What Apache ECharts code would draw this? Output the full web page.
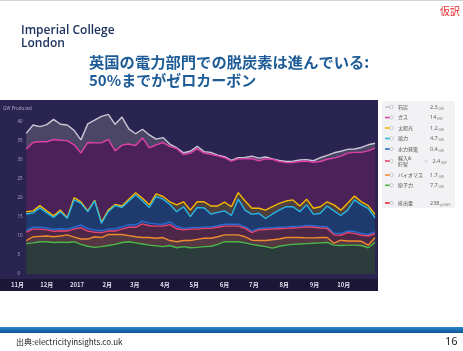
<!DOCTYPE html>
<html>
<head>
<meta charset="utf-8">
<script src="https://cdn.jsdelivr.net/npm/echarts@6.0.0/dist/echarts.min.js"></script>
<style>
html, body { margin: 0; padding: 0; background: #fff; }
#chart { width: 463px; height: 351px; }
</style>
</head>
<body>
<div id="chart"></div>
<script>
// weekly points, GW by source (stacked bottom -> top)
var weeks = ['2016-11-10', '2016-11-17', '2016-11-24', '2016-12-01', '2016-12-08', '2016-12-15', '2016-12-22', '2016-12-29',
    '2017-01-05', '2017-01-12', '2017-01-19', '2017-01-26', '2017-02-02', '2017-02-09', '2017-02-16', '2017-02-23',
    '2017-03-02', '2017-03-09', '2017-03-16', '2017-03-23', '2017-03-30', '2017-04-06', '2017-04-13', '2017-04-20',
    '2017-04-27', '2017-05-04', '2017-05-11', '2017-05-18', '2017-05-25', '2017-06-01', '2017-06-08', '2017-06-15',
    '2017-06-22', '2017-06-29', '2017-07-06', '2017-07-13', '2017-07-20', '2017-07-27', '2017-08-03', '2017-08-10',
    '2017-08-17', '2017-08-24', '2017-08-31', '2017-09-07', '2017-09-14', '2017-09-21', '2017-09-28', '2017-10-05',
    '2017-10-12', '2017-10-19', '2017-10-26', '2017-11-02']
var nuclear = [8.0, 8.2, 8.5, 8.5, 8.3, 8.4, 8.3, 8.5, 7.8, 7.3, 7.0, 7.2, 7.5, 7.8, 8.3, 8.5, 8.2, 7.9, 7.6, 7.4,
    7.2, 7.5, 6.9, 7.2, 6.9, 7.0, 7.2, 7.3, 7.8, 8.5, 8.5, 8.5, 8.2, 7.8, 7.5, 7.2, 6.8, 7.3, 7.6, 7.8,
    7.9, 8.0, 8.1, 8.2, 8.3, 7.6, 7.5, 7.6, 7.6, 7.5, 6.9, 8.3]
var biomass = [0.8, 1.6, 1.4, 1.5, 1.5, 1.6, 2.0, 1.2, 1.4, 1.9, 2.8, 2.4, 2.9, 2.6, 2.1, 1.6, 1.6, 1.7, 2.0, 2.0,
    2.4, 1.3, 1.6, 1.6, 1.9, 2.1, 2.2, 2.1, 2.0, 1.8, 1.8, 1.8, 1.6, 1.1, 1.3, 1.6, 2.2, 1.9, 2.0, 1.8,
    1.7, 1.5, 1.4, 1.4, 1.3, 0.5, 1.4, 1.1, 1.1, 1.1, 0.7, 1.3]
var imports = [2.2, 2.0, 1.9, 1.6, 1.4, 1.4, 1.0, 2.1, 3.0, 2.1, 1.2, 1.3, 0.9, 0.9, 1.4, 2.2, 2.5, 3.6, 3.1, 3.2,
    3.0, 4.2, 3.4, 2.8, 3.0, 2.7, 2.6, 2.6, 2.5, 2.3, 2.3, 2.3, 2.2, 2.0, 2.8, 2.9, 2.8, 2.7, 2.4, 2.5,
    2.6, 2.9, 2.8, 2.5, 2.4, 2.2, 1.3, 2.2, 2.0, 1.6, 2.4, 1.0]
var hydro = [0.5, 0.5, 0.5, 0.5, 0.5, 0.5, 0.5, 0.5, 0.7, 0.7, 0.6, 0.5, 0.5, 0.6, 0.6, 0.7, 0.6, 0.7, 0.7, 0.6,
    0.5, 0.7, 0.6, 0.4, 0.4, 0.4, 0.4, 0.4, 0.4, 0.5, 0.5, 0.5, 0.4, 0.4, 0.4, 0.4, 0.4, 0.4, 0.4, 0.4,
    0.4, 0.4, 0.4, 0.4, 0.4, 0.4, 0.5, 0.4, 0.5, 0.5, 0.4, 0.5]
var wind = [4.3, 3.8, 5.1, 4.0, 3.2, 4.5, 2.8, 7.2, 5.7, 4.4, 7.6, 1.9, 4.6, 6.1, 5.1, 6.2, 7.9, 5.3, 4.1, 7.2,
    6.6, 4.6, 3.9, 5.7, 2.9, 5.3, 5.0, 3.4, 3.5, 3.5, 2.3, 6.6, 4.4, 4.4, 4.0, 2.5, 3.6, 4.5, 5.3, 5.2,
    3.8, 5.4, 3.0, 3.5, 5.5, 5.9, 4.7, 5.5, 8.3, 7.5, 6.9, 3.7]
var solar = [0.6, 0.5, 0.6, 0.5, 0.4, 0.4, 0.2, 0.6, 0.4, 0.2, 0.2, 0.3, 0.4, 0.3, 0.4, 0.5, 0.6, 0.7, 0.7, 0.7,
    0.7, 0.7, 1.8, 1.3, 1.7, 1.5, 1.6, 2.1, 1.7, 2.3, 2.3, 1.7, 2.4, 1.6, 1.3, 2.2, 1.9, 1.8, 1.5, 1.8,
    1.5, 1.5, 1.6, 1.7, 1.1, 1.6, 1.4, 1.8, 1.0, 0.8, 0.7, 0.9]
var gas = [16.5, 18.0, 16.8, 18.2, 20.1, 18.4, 20.3, 13.9, 12.8, 18.0, 15.1, 20.9, 18.6, 14.1, 16.0, 14.5, 12.4, 15.9, 15.0, 12.9,
    14.2, 14.6, 14.8, 12.4, 15.0, 14.0, 12.8, 13.6, 13.2, 11.7, 12.0, 8.9, 11.1, 13.1, 12.5, 13.5, 12.5, 11.0, 10.1, 9.8,
    11.7, 10.0, 12.1, 11.9, 11.2, 12.3, 14.2, 13.2, 11.5, 13.0, 14.4, 17.4]
var coal = [4.1, 4.6, 4.0, 4.5, 5.3, 4.2, 4.1, 3.8, 3.5, 4.9, 6.0, 7.0, 6.6, 7.0, 7.4, 4.0, 3.1, 2.3, 3.4, 1.5,
    1.3, 0.6, 0.2, 0.5, 0.5, 0.6, 0.4, 0.5, 0.2, 0.3, 0.2, 0.3, 0.4, 0.6, 0.7, 0.5, 0.1, 0.3, 0.3, 0.4,
    0.4, 0.4, 0.4, 1.0, 1.0, 1.4, 1.3, 1.0, 0.9, 1.3, 1.6, 1.3]

var monthTicks = ['2016-11-01', '2016-12-01', '2017-01-01', '2017-02-01', '2017-03-01', '2017-04-01',
    '2017-05-01', '2017-06-01', '2017-07-01', '2017-08-01', '2017-09-01', '2017-10-01']
var monthLabels = ['11月', '12月', '2017', '2月', '3月', '4月', '5月', '6月', '7月', '8月', '9月', '10月']

// legend panel (current values)
var legendNames = ['石炭', 'ガス', '太陽光', '風力', '水力発電', '輸入&\n貯留', 'バイオマス', '原子力', '排出量']
var legendValues = ['2.3', '14', '1.2', '4.7', '0.4', '2.4', '1.7', '7.7', '238']
var legendUnits = ['GW', 'GW', 'GW', 'GW', 'GW', 'GW', 'GW', 'GW', 'g/kWh']
var legendColors = ['#c9c6d6', '#e040a8', '#f5b800', '#26b5e6', '#2a6ccf', '#e8456a', '#f08a30', '#4cb848', '#e8263a']

var DAY = 86400000
function toTime (s) {
    var p = s.split('-')
    return Date.UTC(+p[0], +p[1] - 1, +p[2])
}
var T0 = toTime('2016-11-01')
var T1 = toTime('2017-11-03')
// month ticks as day offsets for the label axis
var tickDays = monthTicks.map(function (s) { return (toTime(s) - T0) / DAY })

var layers = [
    { name: '原子力', data: nuclear, line: '#4cb848', fill: '#2c3c3c' },
    { name: 'バイオマス', data: biomass, line: '#f08a30', fill: '#553843' },
    { name: '輸入&貯留', data: imports, line: '#e8456a', fill: '#4d2747' },
    { name: '水力発電', data: hydro, line: '#2a6ccf', fill: '#22397a' },
    { name: '風力', data: wind, line: '#26b5e6', fill: '#1f3a6c' },
    { name: '太陽光', data: solar, line: '#f5b800', fill: '#4f3f3e' },
    { name: 'ガス', data: gas, line: '#e040a8', fill: '#4a2258' },
    { name: '石炭', data: coal, line: '#c9c6d6', fill: '#4c4666' }
]

var series = layers.map(function (l, k) {
    return {
        name: l.name,
        type: 'line',
        stack: 'total',
        symbol: 'none',
        xAxisIndex: 0,
        z: 20 - k,
        data: weeks.map(function (w, i) { return [toTime(w), l.data[i]] }),
        lineStyle: { color: l.line, width: 1.4 },
        areaStyle: { color: l.fill, opacity: 1 }
    }
})

// legend rows y
var rowY = [107, 117.5, 128, 138.5, 149, 161, 175, 185.3, 203]
var legendEls = [{
    type: 'rect', z: -1,
    shape: { x: 382, y: 101, width: 73, height: 107 },
    style: { fill: '#f2f2f4' }
}]
legendNames.forEach(function (n, i) {
    var y = rowY[i]
    legendEls.push({ type: 'line', shape: { x1: 385, y1: y, x2: 390, y2: y }, style: { stroke: legendColors[i], lineWidth: 1.6 } })
    legendEls.push({ type: 'circle', shape: { cx: 391.5, cy: y, r: 1.7 }, style: { fill: '#fff', stroke: '#b8b8c0', lineWidth: 0.8 } })
    legendEls.push({
        type: 'text', x: 398, y: y,
        style: { text: n, fill: '#555', font: '5px "Noto Sans CJK JP"', verticalAlign: 'middle', lineHeight: 6.5 }
    })
    legendEls.push({
        type: 'text', x: i === 5 ? 432.5 : 430, y: y,
        style: {
            text: '{v|' + legendValues[i] + '}{u|' + legendUnits[i] + '}',
            verticalAlign: 'middle',
            rich: {
                v: { fontSize: 5.5, fill: '#666', fontFamily: 'Noto Sans' },
                u: { fontSize: 3.5, fill: '#888', fontFamily: 'Noto Sans', padding: [3, 0, 0, 0.5] }
            }
        }
    })
})
legendEls.push({ type: 'circle', shape: { cx: 426, cy: rowY[5], r: 1.6 }, style: { fill: '#dcdce0' } })

var chart = echarts.init(document.getElementById('chart'))
var option = {
    animation: false,
    backgroundColor: '#fff',
    grid: { left: 12, top: 103, width: 364, height: 171 },
    xAxis: [{
        type: 'time',
        min: T0,
        max: T1,
        show: false
    }, {
        // label-only axis, same span in days
        type: 'value',
        min: 0,
        max: (T1 - T0) / DAY,
        position: 'bottom',
        axisLine: { show: false },
        axisTick: { show: false },
        splitLine: { show: false },
        axisLabel: {
            customValues: tickDays,
            margin: 8,
            color: '#dcdaea',
            fontSize: 6,
            fontWeight: 'bold',
            fontFamily: 'Noto Sans CJK JP',
            formatter: function (v) {
                var idx = tickDays.indexOf(v)
                return idx >= 0 ? monthLabels[idx] : ''
            }
        }
    }],
    yAxis: {
        type: 'value',
        min: 0,
        max: 45,
        interval: 5,
        name: 'GW Produced',
        nameLocation: 'end',
        nameGap: -8,
        nameTextStyle: { color: '#a9a6c0', fontSize: 4.5, align: 'center', fontFamily: 'Noto Sans' },
        axisLine: { show: false },
        axisTick: { show: false },
        splitLine: { show: false },
        axisLabel: {
            inside: true,
            margin: 0,
            showMaxLabel: false,
            color: '#a9a6c0',
            fontSize: 4.5,
            fontFamily: 'Noto Sans'
        }
    },
    graphic: {
        elements: [
            { type: 'rect', z: -1, shape: { x: 0, y: 0, width: 463, height: 1 }, style: { fill: '#d4d4d4' } },
            { type: 'rect', z: -1, shape: { x: 0, y: 100, width: 378, height: 191 }, style: { fill: '#2a2450' } },
            { type: 'rect', z: -1, shape: { x: 0, y: 279, width: 378, height: 12 }, style: { fill: '#1c1636' } },
            { type: 'text', x: 440, y: 11, style: { text: '仮訳', fill: '#e8262a', font: '10px "Noto Sans CJK JP"', verticalAlign: 'middle' } },
            { type: 'text', x: 21, y: 31, style: { text: 'Imperial College', fill: '#1c3361', font: '600 12px "Open Sans"', verticalAlign: 'middle' } },
            { type: 'text', x: 21, y: 44, style: { text: 'London', fill: '#1c3361', font: '600 12px "Open Sans"', verticalAlign: 'middle' } },
            { type: 'text', x: 89, y: 62, style: { text: '英国の電力部門での脱炭素は進んでいる:', fill: '#1d5c96', font: 'bold 15.3px "Noto Sans CJK JP"', verticalAlign: 'middle' } },
            { type: 'text', x: 89, y: 80, style: { text: '50%までがゼロカーボン', fill: '#1d5c96', font: 'bold 15px "Noto Sans CJK JP"', verticalAlign: 'middle' } },
            {
                type: 'rect', z: -1, shape: { x: 0, y: 327, width: 463, height: 6 },
                style: { fill: new echarts.graphic.LinearGradient(0, 0, 0, 1, [{ offset: 0, color: '#2a86cc' }, { offset: 1, color: '#0f5595' }]) }
            },
            { type: 'text', x: 16, y: 342, style: { text: '出典:electricityinsights.co.uk', fill: '#222', font: '8px "Noto Sans CJK JP"', verticalAlign: 'middle' } },
            { type: 'text', x: 445, y: 342, style: { text: '16', fill: '#222', font: '11px "Noto Sans"', verticalAlign: 'middle' } }
        ].concat(legendEls)
    },
    series: series
}
chart.setOption(option)
</script>
</body>
</html>
